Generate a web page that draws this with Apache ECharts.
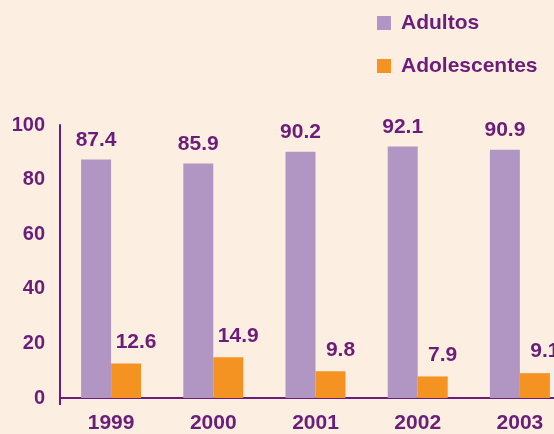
<!DOCTYPE html>
<html>
<head>
<meta charset="utf-8">
<script src="https://cdn.jsdelivr.net/npm/echarts@6/dist/echarts.min.js"></script>
<style>
html,body{margin:0;padding:0;background:#fcefe2;}
#chart{width:554px;height:434px;}
</style>
</head>
<body>
<div id="chart"></div>
<script>
var years = ['1999', '2000', '2001', '2002', '2003'];
var adultos = [87.4, 85.9, 90.2, 92.1, 90.9];
var adolescentes = [12.6, 14.9, 9.8, 7.9, 9.1];
var yTicks = [0, 20, 40, 60, 80, 100];

var txtColor = '#6b1d79';
var font = 'Liberation Sans, Arial, sans-serif';

var chart = echarts.init(document.getElementById('chart'));

var option = {
    backgroundColor: '#fcefe2',
    animation: false,
    legend: {
        data: ['Adultos', 'Adolescentes'],
        orient: 'vertical',
        left: 372,
        top: 6,
        itemWidth: 14,
        itemHeight: 14,
        itemGap: 19,
        icon: 'rect',
        textStyle: {
            color: txtColor,
            fontSize: 21,
            fontWeight: 'bold',
            fontFamily: font,
            lineHeight: 20,
            padding: [4, 0, 0, 5]
        }
    },
    grid: {
        left: 60,
        top: 125,
        bottom: 36,
        width: 511,
        outerBoundsMode: 'none'
    },
    xAxis: {
        type: 'category',
        data: years,
        axisLine: {
            lineStyle: {color: txtColor, width: 2}
        },
        axisTick: {
            show: true,
            length: 7,
            interval: function (index) { return index === 0; },
            lineStyle: {color: txtColor, width: 2}
        },
        axisLabel: {
            color: txtColor,
            fontSize: 21,
            fontWeight: 'bold',
            fontFamily: font,
            margin: 15
        }
    },
    yAxis: {
        type: 'value',
        min: yTicks[0],
        max: yTicks[yTicks.length - 1],
        interval: 20,
        splitLine: {show: false},
        axisLine: {
            show: true,
            lineStyle: {color: txtColor, width: 2}
        },
        axisTick: {show: false},
        axisLabel: {
            color: txtColor,
            fontSize: 20,
            fontWeight: 'bold',
            fontFamily: font,
            margin: 15
        }
    },
    series: [
        {
            name: 'Adultos',
            type: 'bar',
            data: adultos,
            barWidth: 30,
            barGap: '0%',
            itemStyle: {color: '#b196c4'},
            label: {
                show: true,
                position: 'top',
                distance: 9,
                color: txtColor,
                fontSize: 21,
                fontWeight: 'bold',
                fontFamily: font
            }
        },
        {
            name: 'Adolescentes',
            type: 'bar',
            data: adolescentes,
            barWidth: 30,
            itemStyle: {color: '#f49321'},
            label: {
                show: true,
                position: 'top',
                distance: 11,
                offset: [10, 0],
                color: txtColor,
                fontSize: 21,
                fontWeight: 'bold',
                fontFamily: font
            }
        }
    ]
};

chart.setOption(option);
</script>
</body>
</html>
